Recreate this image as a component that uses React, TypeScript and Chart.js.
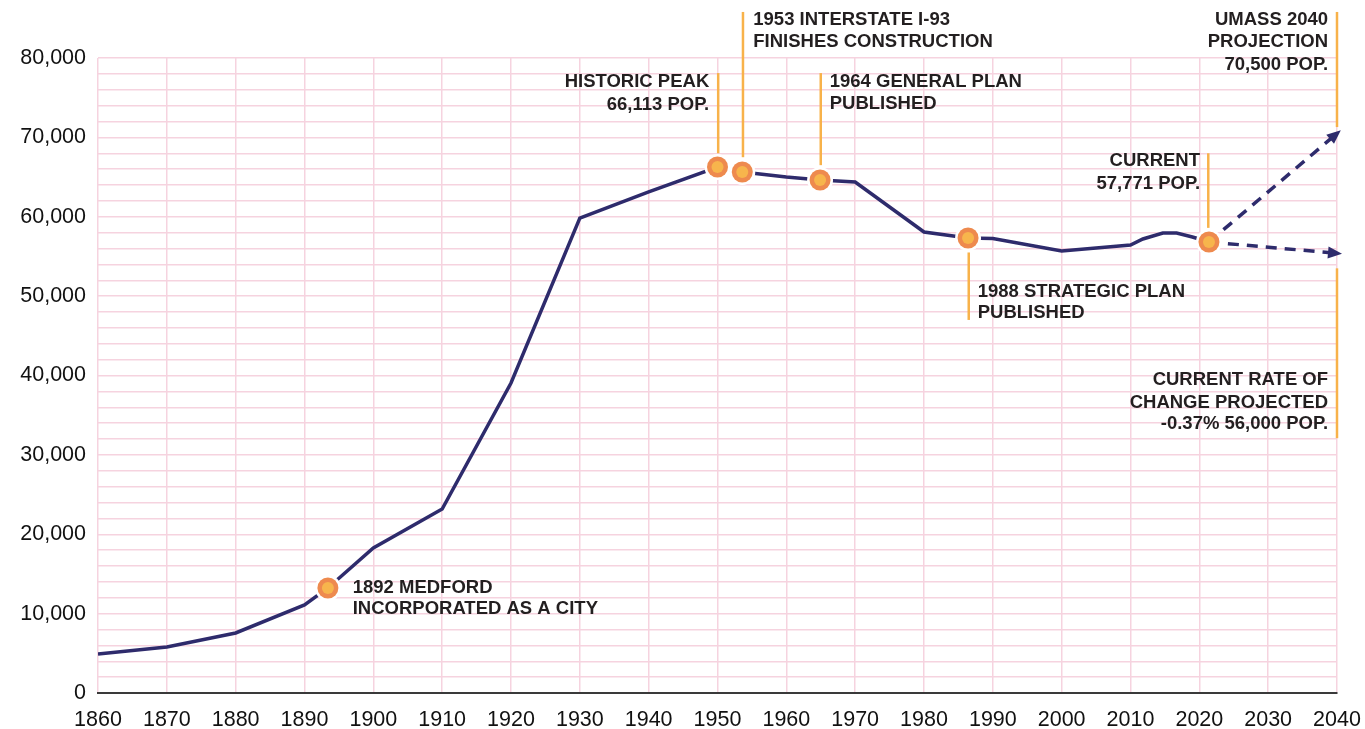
import React, { useEffect, useRef } from "react";
import { Chart, registerables } from "chart.js";

Chart.register(...registerables);

// Historical population (year, value)
const YEARS = [1860, 1870, 1880, 1890, 1893.4, 1900, 1910, 1920, 1930, 1940, 1950, 1953.6, 1960, 1964.9, 1970, 1980, 1986.4, 1990, 2000, 2010, 2011.8, 2014.7, 2016.7, 2019, 2021.4];
const POPULATION = [4900, 5800, 7560, 11100, 13230, 18270, 23180, 39050, 59840, 63120, 66270, 65640, 65010, 64630, 64380, 58080, 57320, 57250, 55700, 56440, 57200, 57950, 57950, 57450, 56820];

// Projections
const PROJ_YEARS = [2021.4, 2040];
const UMASS_PROJ = [56820, 70500];
const RATE_PROJ = [56820, 55400];

// Highlighted milestones
const MARKER_YEARS = [1893.4, 1950, 1953.6, 1964.9, 1986.4, 2021.4];
const MARKER_VALUES = [13230, 66270, 65640, 64630, 57320, 56820];

// Axis ticks
const X_MIN = 1860;
const X_MAX = 2040;
const X_STEP = 10;
const Y_MIN = 0;
const Y_MAX = 80000;
const Y_GRID_STEP = 2000;
const Y_LABEL_STEP = 10000;

type Note = {
  lineYear?: number;
  lineFrom?: number;
  lineTo?: number;
  textYear: number;
  textValues: number[];
  align: "left" | "right";
  lines: string[];
};

const NOTES: Note[] = [
  { textYear: 1897.0, textValues: [13230, 10560], align: "left", lines: ["1892 MEDFORD", "INCORPORATED AS A CITY"] },
  { lineYear: 1950.1, lineFrom: 68000, lineTo: 78100, textYear: 1948.8, textValues: [77000, 74150], align: "right", lines: ["HISTORIC PEAK", "66,113 POP."] },
  { lineYear: 1953.7, lineFrom: 67500, lineTo: 85800, textYear: 1955.2, textValues: [84850, 82050], align: "left", lines: ["1953 INTERSTATE I-93", "FINISHES CONSTRUCTION"] },
  { lineYear: 1965.0, lineFrom: 66500, lineTo: 78100, textYear: 1966.3, textValues: [77000, 74200], align: "left", lines: ["1964 GENERAL PLAN", "PUBLISHED"] },
  { lineYear: 1986.5, lineFrom: 47000, lineTo: 55500, textYear: 1987.8, textValues: [50500, 47850], align: "left", lines: ["1988 STRATEGIC PLAN", "PUBLISHED"] },
  { lineYear: 2021.3, lineFrom: 58600, lineTo: 68000, textYear: 2020.1, textValues: [67000, 64150], align: "right", lines: ["CURRENT", "57,771 POP."] },
  { lineYear: 2040, lineFrom: 71300, lineTo: 85800, textYear: 2038.7, textValues: [84850, 82000], align: "right", lines: ["UMASS 2040", "PROJECTION"] },
  { textYear: 2038.7, textValues: [79150], align: "right", lines: ["70,500 POP."] },
  { lineYear: 2040, lineFrom: 32100, lineTo: 53500, textYear: 2038.7, textValues: [39400, 36600, 33850], align: "right", lines: ["CURRENT RATE OF", "CHANGE PROJECTED", "-0.37% 56,000 POP."] },
];

const NAVY = "#2e2b6c";
const LEADER = "#f8b24a";
const RING = "#ee8a4e";
const CORE = "#f7b54c";
const GRID = "#f6d3df";
const TEXT = "#231f20";

const overlayPlugin = {
  id: "overlay",
  afterDatasetsDraw(chart: any) {
    const { ctx, scales } = chart;
    const xs = scales.x;
    const ys = scales.y;
    ctx.save();

    const arrow = (yrs: number[], vals: number[]) => {
      const x0 = xs.getPixelForValue(yrs[yrs.length - 2]);
      const y0 = ys.getPixelForValue(vals[vals.length - 2]);
      const x1 = xs.getPixelForValue(yrs[yrs.length - 1]);
      const y1 = ys.getPixelForValue(vals[vals.length - 1]);
      const a = Math.atan2(y1 - y0, x1 - x0);
      const tipX = x1 + Math.cos(a) * 5;
      const tipY = y1 + Math.sin(a) * 5;
      const len = 14;
      const half = 6;
      ctx.beginPath();
      ctx.moveTo(tipX, tipY);
      ctx.lineTo(tipX - len * Math.cos(a) + half * Math.sin(a), tipY - len * Math.sin(a) - half * Math.cos(a));
      ctx.lineTo(tipX - len * Math.cos(a) - half * Math.sin(a), tipY - len * Math.sin(a) + half * Math.cos(a));
      ctx.closePath();
      ctx.fillStyle = NAVY;
      ctx.fill();
    };
    arrow(PROJ_YEARS, UMASS_PROJ);
    arrow(PROJ_YEARS, RATE_PROJ);

    ctx.font = "bold 18.5px 'Liberation Sans', Arial, sans-serif";
    ctx.textBaseline = "middle";
    NOTES.forEach((n) => {
      if (n.lineYear !== undefined) {
        const lx = xs.getPixelForValue(n.lineYear);
        ctx.beginPath();
        ctx.moveTo(lx, ys.getPixelForValue(n.lineFrom));
        ctx.lineTo(lx, ys.getPixelForValue(n.lineTo));
        ctx.strokeStyle = LEADER;
        ctx.lineWidth = 2.5;
        ctx.stroke();
      }
      ctx.fillStyle = TEXT;
      ctx.textAlign = n.align;
      const tx = xs.getPixelForValue(n.textYear);
      n.lines.forEach((t, i) => {
        ctx.fillText(t, tx, ys.getPixelForValue(n.textValues[i]));
      });
    });

    MARKER_YEARS.forEach((yr, i) => {
      const mx = xs.getPixelForValue(yr);
      const my = ys.getPixelForValue(MARKER_VALUES[i]);
      ctx.beginPath();
      ctx.arc(mx, my, 13, 0, Math.PI * 2);
      ctx.fillStyle = "#ffffff";
      ctx.fill();
      ctx.beginPath();
      ctx.arc(mx, my, 10.5, 0, Math.PI * 2);
      ctx.fillStyle = RING;
      ctx.fill();
      ctx.beginPath();
      ctx.arc(mx, my, 6, 0, Math.PI * 2);
      ctx.fillStyle = CORE;
      ctx.fill();
    });
    ctx.restore();
  },
};

export default function App() {
  const ref = useRef<HTMLCanvasElement | null>(null);

  useEffect(() => {
    if (!ref.current) return;
    const toPts = (xs: number[], ys: number[]) => xs.map((x, i) => ({ x, y: ys[i] }));
    const chart = new Chart(ref.current, {
      type: "line",
      data: {
        datasets: [
          { data: toPts(YEARS, POPULATION), borderColor: NAVY, borderWidth: 3.5, pointRadius: 0, tension: 0, fill: false },
          { data: toPts(PROJ_YEARS, UMASS_PROJ), borderColor: NAVY, borderWidth: 3.5, borderDash: [11, 8], pointRadius: 0, fill: false },
          { data: toPts(PROJ_YEARS, RATE_PROJ), borderColor: NAVY, borderWidth: 3.5, borderDash: [11, 8], pointRadius: 0, fill: false },
        ],
      },
      options: {
        responsive: false,
        animation: false,
        layout: { padding: { left: 0, top: 58, right: 28, bottom: 0 } },
        plugins: { legend: { display: false }, tooltip: { enabled: false } },
        scales: {
          x: {
            type: "linear",
            min: X_MIN,
            max: X_MAX,
            ticks: {
              stepSize: X_STEP,
              color: "#111",
              font: { family: "'Liberation Sans', Arial, sans-serif", size: 21.5 },
              padding: 14,
              maxRotation: 0,
              callback: (v: any) => String(v),
            },
            grid: { color: GRID, lineWidth: 1.5, drawTicks: false },
            border: { display: true, color: "#3a3a3a", width: 2 },
            afterFit: (s: any) => {
              s.height = 36;
              s.paddingLeft = 0;
              s.paddingRight = 0;
            },
          },
          y: {
            type: "linear",
            min: Y_MIN,
            max: Y_MAX,
            ticks: {
              stepSize: Y_GRID_STEP,
              autoSkip: false,
              color: "#111",
              font: { family: "'Liberation Sans', Arial, sans-serif", size: 21.5 },
              padding: 12,
              callback: (v: any) => (Number(v) % Y_LABEL_STEP === 0 ? Number(v).toLocaleString("en-US") : ""),
            },
            grid: { color: GRID, lineWidth: 1.5, drawTicks: false },
            border: { display: false },
            afterFit: (s: any) => {
              s.width = 98;
              s.paddingTop = 0;
              s.paddingBottom = 0;
            },
          },
        },
      },
      plugins: [overlayPlugin],
    } as any);
    return () => chart.destroy();
  }, []);

  return (
    <div style={{ position: "absolute", left: 0, top: 0, width: 1365, height: 729, background: "#fff" }}>
      <canvas ref={ref} width={1365} height={729} />
    </div>
  );
}
